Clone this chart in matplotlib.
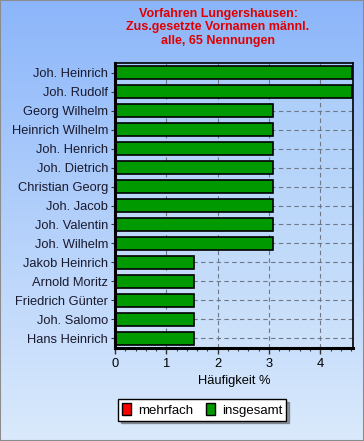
import matplotlib

matplotlib.use("Agg")
import matplotlib.pyplot as plt
import numpy as np
from matplotlib.patches import Patch, Rectangle

names = [
    "Joh. Heinrich", "Joh. Rudolf", "Georg Wilhelm", "Heinrich Wilhelm",
    "Joh. Henrich", "Joh. Dietrich", "Christian Georg", "Joh. Jacob",
    "Joh. Valentin", "Joh. Wilhelm", "Jakob Heinrich", "Arnold Moritz",
    "Friedrich Günter", "Joh. Salomo", "Hans Heinrich",
]
counts = [3, 3, 2, 2, 2, 2, 2, 2, 2, 2, 1, 1, 1, 1, 1]
total = 65
pct = [100.0 * c / total for c in counts]

title = "Vorfahren Lungershausen:\nZus.gesetzte Vornamen männl.\nalle, 65 Nennungen"

plt.rcParams["font.family"] = ["Liberation Sans", "DejaVu Sans"]

fig = plt.figure(figsize=(3.64, 4.41), dpi=100)

# figure background gradient
bg = fig.add_axes([0, 0, 1, 1], zorder=-10)
top_c = np.array([140, 182, 250]) / 255
bot_c = np.array([218, 234, 252]) / 255
t = np.linspace(0, 1, 256)[:, None]
grad = top_c * (1 - t[..., None]) + bot_c * t[..., None]
bg.imshow(grad, aspect="auto", extent=[0, 1, 0, 1])
bg.add_patch(Rectangle((0, 0), 1, 1, fill=False, edgecolor="#8c8c8c", lw=1.5,
                       transform=bg.transAxes))
bg.set_axis_off()

ax = fig.add_axes([0.316, 0.211, 0.654, 0.646])
y = np.arange(len(names))

# plot area gradient
pa_top = np.array([168, 204, 250]) / 255
pa_bot = np.array([206, 226, 250]) / 255
grad2 = pa_top * (1 - t[..., None]) + pa_bot * t[..., None]
xmax = 4.64
ax.imshow(grad2, aspect="auto", extent=[0, xmax, len(names) - 0.5, -0.5], zorder=0)

for yi in y:
    ax.axhline(yi, color="#707888", lw=0.8, ls=(0, (4, 3)), zorder=1)
for xi in range(1, 5):
    ax.axvline(xi, color="#707888", lw=0.8, ls=(0, (4, 3)), zorder=1)

ax.barh(y, pct, height=0.68, color="#009900", edgecolor="black", lw=1.2, zorder=2)

ax.set_xlim(0, xmax)
ax.set_ylim(len(names) - 0.5, -0.5)
ax.set_yticks(y)
ax.set_yticklabels(names, fontsize=9.3, color="#1a1a2e")
ax.set_xticks(range(0, 5))
ax.set_xticks(np.arange(0, xmax, 0.2), minor=True)
ax.tick_params(axis="x", labelsize=9.3, length=4, width=1, color="#333333")
ax.tick_params(axis="x", which="minor", length=2, width=0.8, color="#333333")
ax.tick_params(axis="y", length=3, width=0.8, color="#333333", pad=2)
ax.set_xlabel("Häufigkeit %", fontsize=9.3, labelpad=3)

for side in ("left", "bottom"):
    ax.spines[side].set_linewidth(2.2)
for side in ("top", "right"):
    ax.spines[side].set_linewidth(1.2)

fig.text(0.599, 0.981, title, ha="center", va="top", color="#e00000",
         fontsize=9, fontweight="bold", linespacing=1.12)

handles = [
    Patch(facecolor="#ff0000", edgecolor="black", label="mehrfach"),
    Patch(facecolor="#009900", edgecolor="black", label="insgesamt"),
]
leg = fig.legend(handles=handles, loc="center", bbox_to_anchor=(0.555, 0.071),
                 ncol=2, fontsize=9.5, frameon=True, fancybox=False, shadow=True,
                 handlelength=0.7, handleheight=1.1, handletextpad=0.5,
                 columnspacing=1.0, borderpad=0.3, borderaxespad=0)
leg.get_frame().set_edgecolor("black")
leg.get_frame().set_linewidth(1.0)
leg.get_frame().set_facecolor("white")

fig.savefig("out.png", dpi=100)
